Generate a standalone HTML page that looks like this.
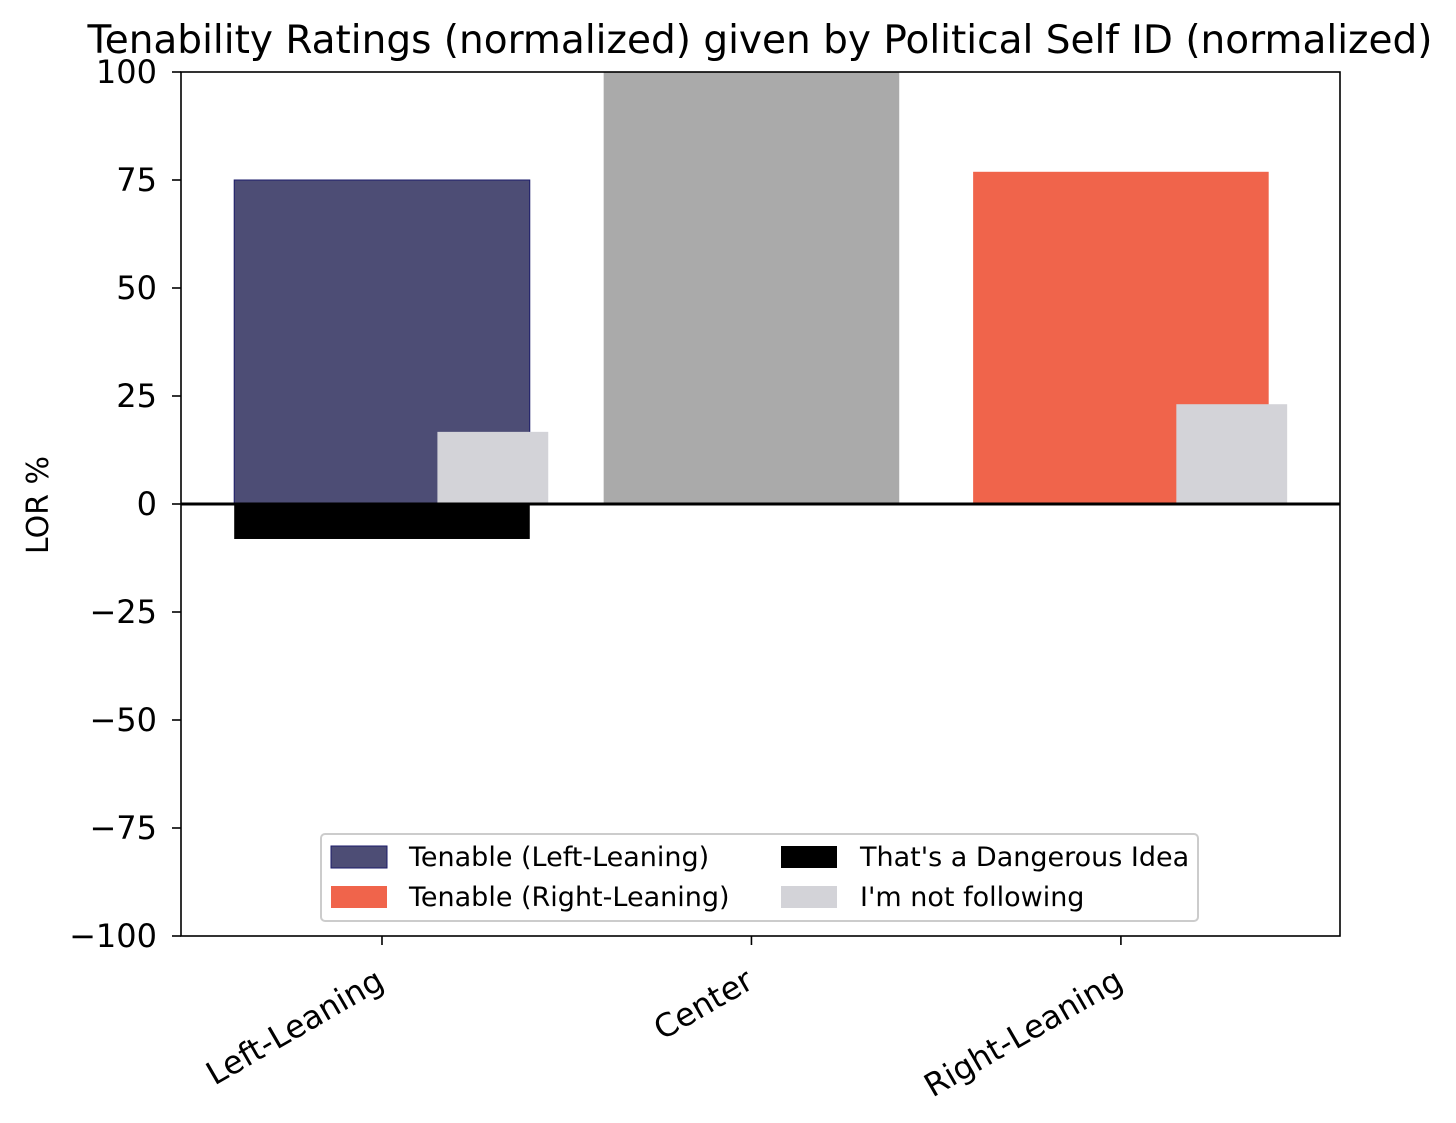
<!DOCTYPE html>
<html><head><meta charset="utf-8"><style>
html,body{margin:0;padding:0;background:#fff;}
svg{display:block;font-family:"DejaVu Sans","Liberation Sans",sans-serif;}
</style></head><body>
<svg id="chart" width="1456" height="1123" viewBox="0 0 1456 1123" xmlns="http://www.w3.org/2000/svg">
<rect width="1456" height="1123" fill="#fff"/>
<text x="760" y="53" font-size="39" text-anchor="middle" fill="#000">Tenability Ratings (normalized) given by Political Self ID (normalized)</text>
<text transform="translate(48,505) rotate(-90)" font-size="30" text-anchor="middle" fill="#000">LOR %</text>
<g id="bars"></g>
<g id="axes"></g>
<g>
<rect x="321" y="834" width="877" height="87" rx="4" fill="#fff" fill-opacity="0.8" stroke="#cccccc" stroke-width="2"/>
<rect x="331" y="846" width="56" height="22" fill="#4d4d75" stroke="#1a1a6a" stroke-width="1"/>
<text x="409" y="866" font-size="27">Tenable (Left-Leaning)</text>
<rect x="331" y="886" width="56" height="22" fill="#f0644b"/>
<text x="409" y="906" font-size="27">Tenable (Right-Leaning)</text>
<rect x="781" y="846" width="56" height="22" fill="#000"/>
<text x="860" y="866" font-size="27">That's a Dangerous Idea</text>
<rect x="781" y="886" width="56" height="22" fill="#d3d3d8"/>
<text x="860" y="906" font-size="27">I'm not following</text>
</g>
</svg>
<script>
const categories = ["Left-Leaning", "Center", "Right-Leaning"];
const tenableValues = [75, 100, 76.9];
const dangerousValues = [-8.1, 0, 0];
const notFollowingValues = [16.7, 0, 23.1];
const yTicks = [100, 75, 50, 25, 0, -25, -50, -75, -100];
const tenableColors = ["#4d4d75", "#aaaaaa", "#f0644b"];

const NS = "http://www.w3.org/2000/svg";
const L = 181, R = 1340, T = 72, B = 936;
const xmin = -0.544, xmax = 2.593, ymin = -100, ymax = 100;
const xs = v => L + (v - xmin) / (xmax - xmin) * (R - L);
const ys = v => B - (v - ymin) / (ymax - ymin) * (B - T);
function mk(tag, attrs, parent) {
  const e = document.createElementNS(NS, tag);
  for (const k in attrs) e.setAttribute(k, attrs[k]);
  parent.appendChild(e);
  return e;
}
const bars = document.getElementById("bars");
const axes = document.getElementById("axes");
categories.forEach((c, i) => {
  const v = tenableValues[i];
  const r1 = mk("rect", {x: xs(i - 0.4), width: xs(i + 0.4) - xs(i - 0.4), y: Math.min(ys(v), ys(0)), height: Math.abs(ys(v) - ys(0)), fill: tenableColors[i]}, bars);
  if (i === 0) { r1.setAttribute("stroke", "#1a1a6a"); r1.setAttribute("stroke-width", "1"); }
  
  
  const d = dangerousValues[i];
  if (d !== 0) {
    const r2 = mk("rect", {x: xs(i - 0.4), width: xs(i + 0.4) - xs(i - 0.4), y: Math.min(ys(d), ys(0)), height: Math.abs(ys(d) - ys(0)), fill: "#000"}, bars);
    
    
  }
  const n = notFollowingValues[i];
  if (n !== 0) {
    const r3 = mk("rect", {x: xs(i + 0.15), width: xs(i + 0.45) - xs(i + 0.15), y: Math.min(ys(n), ys(0)), height: Math.abs(ys(n) - ys(0)), fill: "#d3d3d8"}, bars);
    
    
  }
});
const z = mk("line", {x1: L, x2: R, y1: ys(0), y2: ys(0), stroke: "#000", "stroke-width": 3}, axes);


const fr = mk("rect", {x: L, y: T, width: R - L, height: B - T, fill: "none", stroke: "#000", "stroke-width": 1.6}, axes);


yTicks.forEach(t => {
  const y = ys(t);
  const tk = mk("line", {x1: L - 9, x2: L, y1: y, y2: y, stroke: "#000", "stroke-width": 1.6}, axes);
  
  
  const tx = mk("text", {x: L - 24, y: y + 11, "font-size": 32, "text-anchor": "end"}, axes);
  tx.textContent = String(t).replace("-", "\u2212");
  
  
});
categories.forEach((c, i) => {
  const x = xs(i);
  const tk = mk("line", {x1: x, x2: x, y1: B, y2: B + 9, stroke: "#000", "stroke-width": 1.6}, axes);
  
  
  const tx = mk("text", {transform: `translate(${x - 8},${B + 30}) rotate(-30)`, "font-size": 32, "text-anchor": "end", "dominant-baseline": "hanging"}, axes);
  tx.textContent = c;
  
  
});
</script>
</body></html>
